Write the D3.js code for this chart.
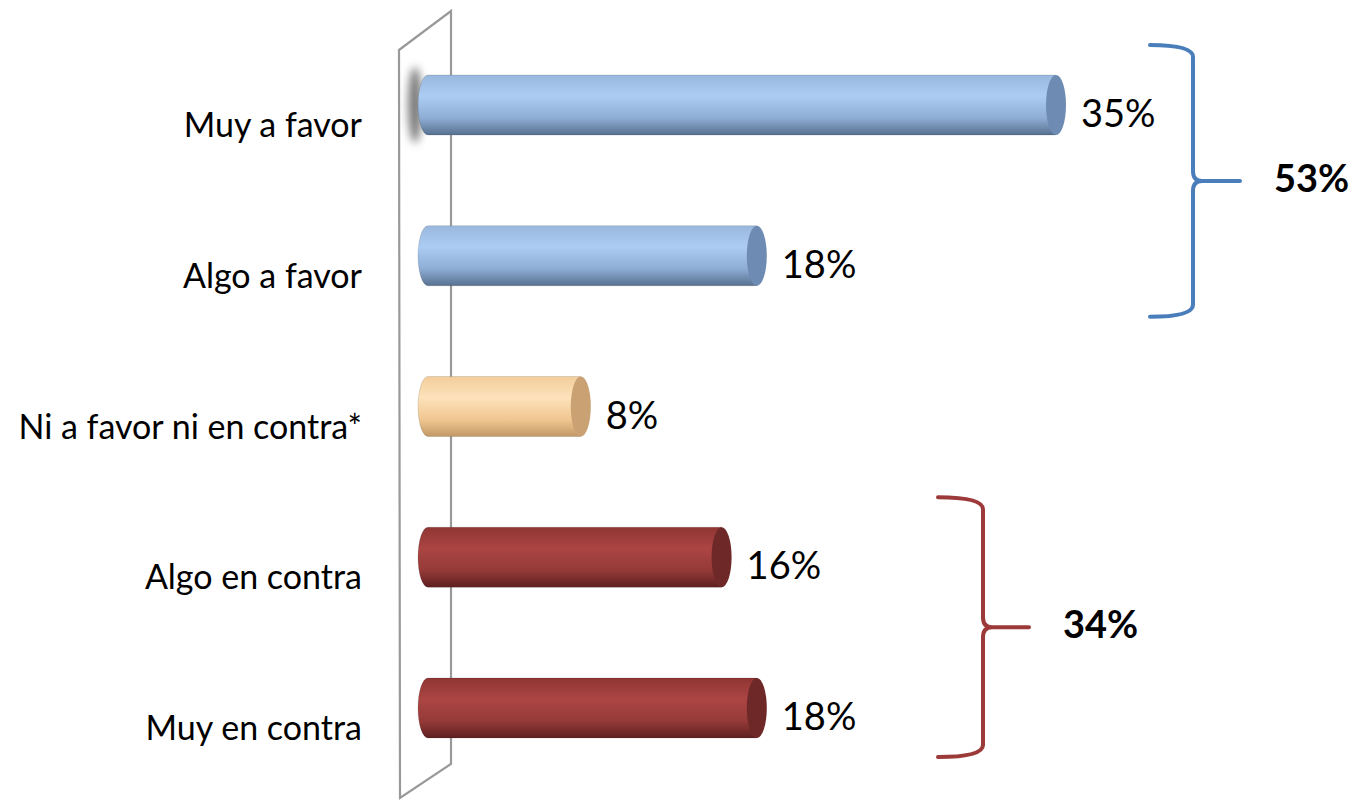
<!DOCTYPE html>
<html lang="es">
<head>
    <title>Opinion - barras cilindro</title>
    <meta charset="UTF-8">
    <script src="https://d3js.org/d3.v7.min.js"></script>
    <style>
        body { margin: 0; background: #fff; }
        text { font-family: Lato, "Open Sans", sans-serif; fill: #000; }
    </style>
</head>
<body>
    <script>
        // data
        const categories = ["Muy a favor", "Algo a favor", "Ni a favor ni en contra*", "Algo en contra", "Muy en contra"];
        const values = [35, 18, 8, 16, 18];
        const valueLabels = ["35%", "18%", "8%", "16%", "18%"];
        const tones = ["blue", "blue", "orange", "red", "red"];
        const groupLabels = ["53%", "34%"];
        const groupFrom = ["Muy a favor", "Algo en contra"];
        const groupTo = ["Algo a favor", "Muy en contra"];

        const w = 1355, h = 801;
        const barH = 60, rx = 10, depth = 22;

        const palette = {
            blue:   { stops: ["#9ab8de", "#acccf3", "#8eadd4", "#56708f"], cap: "#6e8cb3", brace: "#4a7ebb" },
            orange: { stops: ["#f3cd9a", "#fde2bb", "#f0c690", "#c29866"], cap: "#c9a172" },
            red:    { stops: ["#8f3533", "#ab4543", "#953a38", "#5e1f1f"], cap: "#6f2828", brace: "#9b3a38" }
        };

        const svg = d3.select("body")
            .append("svg")
            .attr("width", w)
            .attr("height", h);

        const defs = svg.append("defs");
        Object.keys(palette).forEach(k => {
            const g = defs.append("linearGradient")
                .attr("id", "grad-" + k)
                .attr("x1", 0).attr("y1", 0).attr("x2", 0).attr("y2", 1);
            [0, 0.35, 0.72, 1].forEach((o, i) => {
                g.append("stop").attr("offset", o).attr("stop-color", palette[k].stops[i]);
            });
        });
        defs.append("filter").attr("id", "blur")
            .attr("x", "-100%").attr("y", "-50%").attr("width", "300%").attr("height", "200%")
            .append("feGaussianBlur").attr("stdDeviation", 4);

        const xScale = d3.scaleLinear().domain([0, 35]).range([440, 1056]);
        const yScale = d3.scalePoint().domain(categories).range([105, 708]);

        // back wall
        const wall = [[399, 50], [451, 11], [451, 764], [400, 798]];
        svg.append("path")
            .attr("d", d3.line()(wall) + "Z")
            .attr("fill", "none")
            .attr("stroke", "#999")
            .attr("stroke-width", 2.2);

        const rows = categories.map((c, i) => ({ cat: c, v: values[i], label: valueLabels[i], tone: tones[i] }));

        // soft shadow at the base of the first bar
        svg.append("ellipse")
            .attr("cx", xScale(0) - depth - 3)
            .attr("cy", yScale(categories[0]))
            .attr("rx", 7)
            .attr("ry", barH / 2 + 8)
            .attr("fill", "#7a7a7a")
            .attr("filter", "url(#blur)");

        const bars = svg.selectAll("g.bar")
            .data(rows)
            .enter()
            .append("g")
            .attr("class", "bar");

        // cylinder body with rounded left end
        bars.append("path")
            .attr("d", d => {
                const x0 = xScale(0) - depth + rx, x1 = xScale(d.v), yc = yScale(d.cat);
                const t = yc - barH / 2, b = yc + barH / 2;
                return "M" + x0 + "," + t + " L" + x1 + "," + t +
                       " L" + x1 + "," + b + " L" + x0 + "," + b +
                       " A" + rx + "," + (barH / 2) + " 0 0 1 " + x0 + "," + t + "Z";
            })
            .attr("fill", d => "url(#grad-" + d.tone + ")")
            .attr("stroke", "rgba(0,0,0,0.12)")
            .attr("stroke-width", 1);

        // right end cap
        bars.append("ellipse")
            .attr("cx", d => xScale(d.v))
            .attr("cy", d => yScale(d.cat))
            .attr("rx", rx)
            .attr("ry", barH / 2)
            .attr("fill", d => palette[d.tone].cap);

        bars.append("text")
            .attr("x", d => xScale(d.v) + rx + 15)
            .attr("y", d => yScale(d.cat) + 22)
            .attr("font-size", 38)
            .text(d => d.label);

        svg.selectAll("text.cat")
            .data(categories)
            .enter()
            .append("text")
            .attr("class", "cat")
            .attr("x", 362)
            .attr("y", d => yScale(d) + 32)
            .attr("text-anchor", "end")
            .attr("font-size", 34)
            .text(d => d);

        // braces grouping the answers
        const braceX = [[1150, 1193, 1240], [938, 983, 1029]];
        const braceExt = [[60, 61], [60, 49]];
        const braceTone = ["blue", "red"];

        groupLabels.forEach((lab, i) => {
            const top = yScale(groupFrom[i]) - braceExt[i][0];
            const bot = yScale(groupTo[i]) + braceExt[i][1];
            const mid = (top + bot) / 2;
            const [x0, xv, xt] = braceX[i];
            const p = d3.path();
            p.moveTo(x0, top);
            p.quadraticCurveTo(xv, top, xv, top + 12);
            p.lineTo(xv, mid - 10);
            p.quadraticCurveTo(xv, mid, xv + 9, mid);
            p.lineTo(xt, mid);
            p.moveTo(xv + 9, mid);
            p.quadraticCurveTo(xv, mid, xv, mid + 10);
            p.lineTo(xv, bot - 12);
            p.quadraticCurveTo(xv, bot, x0, bot);
            svg.append("path")
                .attr("d", p.toString())
                .attr("fill", "none")
                .attr("stroke", palette[braceTone[i]].brace)
                .attr("stroke-width", 4)
                .attr("stroke-linecap", "round")
                .attr("stroke-linejoin", "round");
            svg.append("text")
                .attr("x", xt + 34)
                .attr("y", mid + 11)
                .attr("font-size", 38)
                .attr("font-weight", "bold")
                .text(lab);
        });
    </script>
</body>
</html>
